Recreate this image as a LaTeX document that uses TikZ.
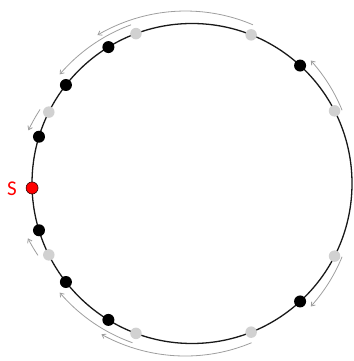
\documentclass[tikz,border=0pt]{standalone}
\usepackage{fontspec}
\newfontfamily\labelfont{Carlito}
\usetikzlibrary{arrows.meta}
\tikzset{
  ring/.style={draw=black!90, line width=1.3pt},
  bdot/.style={circle, fill=black, inner sep=0pt, minimum size=12pt},
  gdot/.style={circle, fill=black!18, inner sep=0pt, minimum size=11.5pt},
  sdot/.style={circle, fill=red, draw=black!80!red, line width=0.6pt, inner sep=0pt, minimum size=12pt},
  hop/.style={draw=black!38, line width=0.8pt, -{Straight Barb[length=3.5pt,width=5pt]}},
}
\newcommand\hoparc[4]{\draw[hop] plot[domain=#1:#2,samples=40]
  ({192+(#3+(#4-#3)*(\x-(#1))/((#2)-(#1)))*cos(\x)},{177.5+(#3+(#4-#3)*(\x-(#1))/((#2)-(#1)))*sin(\x)});}
\begin{document}
\begin{tikzpicture}[x=1pt,y=1pt]
\useasboundingbox (0,0) rectangle (353,361);
\coordinate (C) at (192,177.5);
\draw[ring] (C) circle (160);
% hop arrows (grey dot -> next black dot)
\hoparc{26}{46}{167}{171}
\hoparc{69}{122.5}{170}{176}
\hoparc{111}{140.5}{170}{171.5}
\hoparc{154}{162}{169}{172}
\hoparc{334}{314}{167}{171}
\hoparc{290.5}{239}{170}{176}
\hoparc{249.5}{219.5}{170}{171.5}
\hoparc{205}{198.5}{170}{173}
% dots
\path (C) ++(47.5:160) node[bdot] (b1) {};
\path (C) ++(121.5:160) node[bdot] (b2) {};
\path (C) ++(142:160) node[bdot] (b3) {};
\path (C) ++(163:160) node[bdot] (b4) {};
\path (C) ++(312.5:160) node[bdot] (b5) {};
\path (C) ++(238.5:160) node[bdot] (b6) {};
\path (C) ++(218:160) node[bdot] (b7) {};
\path (C) ++(197:160) node[bdot] (b8) {};
\path (C) ++(27:160) node[gdot] (g1) {};
\path (C) ++(68.3:160) node[gdot] (g2) {};
\path (C) ++(110.5:160) node[gdot] (g3) {};
\path (C) ++(153.5:160) node[gdot] (g4) {};
\path (C) ++(333:160) node[gdot] (g5) {};
\path (C) ++(291.7:160) node[gdot] (g6) {};
\path (C) ++(249.5:160) node[gdot] (g7) {};
\path (C) ++(206.5:160) node[gdot] (g8) {};
\path (C) ++(181.6:160) node[sdot] (s) {};
\node[text=red, font=\labelfont\fontsize{21}{21}\selectfont, anchor=center] (slabel) at (12,172) {S};
\end{tikzpicture}
\end{document}
